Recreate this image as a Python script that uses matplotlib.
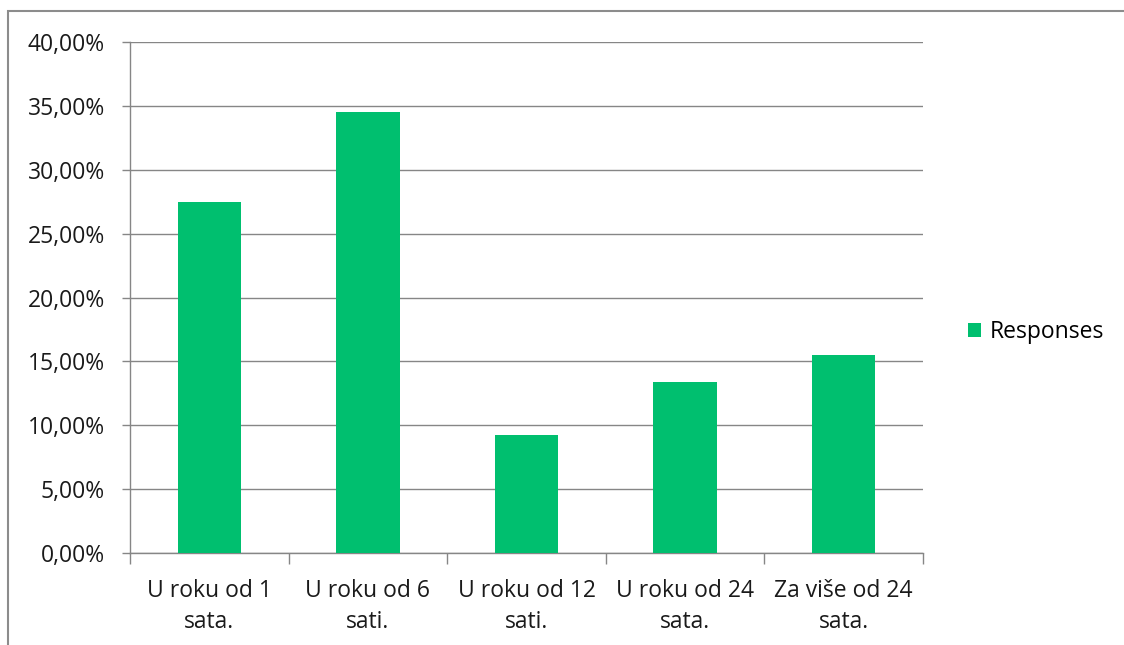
import matplotlib.pyplot as plt
import matplotlib.patches as mpatches
import numpy as np

categories = ['U roku od 1\nsata.', 'U roku od 6\nsati.', 'U roku od 12\nsati.',
              'U roku od 24\nsata.', 'Za više od 24\nsata.']
responses = [27.5, 34.5, 9.2, 13.4, 15.5]
y_ticks = [0, 5, 10, 15, 20, 25, 30, 35, 40]

bar_color = '#00BF6F'
grid_color = '#868686'
text_color = '#1a1a1a'
fs = 16.5

plt.rcParams['font.family'] = ['Open Sans', 'DejaVu Sans']

fig = plt.figure(figsize=(11.24, 6.45), dpi=100)
# outer chart border
fig.patches.append(mpatches.Rectangle((8 / 1124, -0.01), 1.1, (645 - 11) / 645 + 0.01,
                                      transform=fig.transFigure, fill=False,
                                      edgecolor='#8c8c8c', linewidth=1.5))

ax = fig.add_axes([130 / 1124, (645 - 553) / 645, 793 / 1124, 511 / 645])
x = np.arange(len(categories))
bars = ax.bar(x, responses, width=0.4, color=bar_color, label='Responses', zorder=3)

ax.set_xlim(-0.5, len(categories) - 0.5)
ax.set_ylim(0, 40)
ax.set_yticks(y_ticks)
ax.set_yticklabels([f'{v:.2f}%'.replace('.', ',') for v in y_ticks], fontsize=fs, color=text_color)
ax.yaxis.grid(True, color=grid_color, linewidth=1, zorder=0)
ax.tick_params(axis='y', length=6, width=1, color=grid_color, pad=12)

ax.set_xticks(x)
ax.set_xticklabels(categories, fontsize=fs, color=text_color, linespacing=1.35)
ax.tick_params(axis='x', length=0, pad=19)
ax.set_xticks(np.arange(-0.5, len(categories)), minor=True)
ax.tick_params(axis='x', which='minor', length=8, width=1, color=grid_color)

for side in ['top', 'right']:
    ax.spines[side].set_visible(False)
for side in ['left', 'bottom']:
    ax.spines[side].set_color(grid_color)
    ax.spines[side].set_linewidth(1)

fig.legend(handles=[bars], labels=['Responses'], loc='center left',
           bbox_to_anchor=(947 / 1124, 1 - 332 / 645), frameon=False,
           fontsize=fs, handlelength=0.6, handleheight=0.6, handletextpad=0.35)

fig.savefig('out.png', dpi=100)
